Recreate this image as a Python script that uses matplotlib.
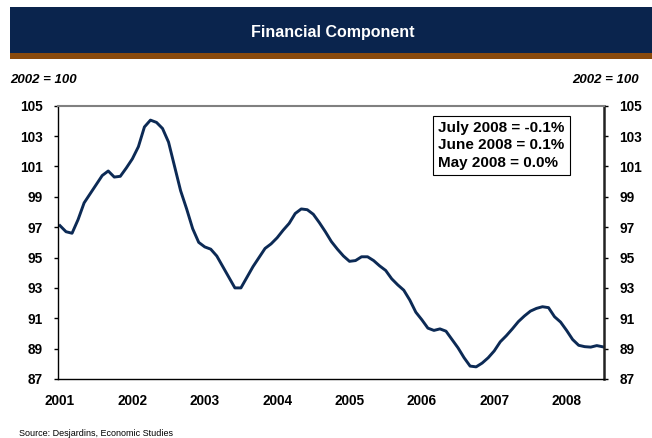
import matplotlib
matplotlib.use("Agg")
import matplotlib.pyplot as plt
from matplotlib.patches import Rectangle

# Monthly index, Jan 2001 - Jul 2008 (2002 = 100)
values = [
    97.1, 96.7, 96.6, 97.5, 98.6, 99.2, 99.8, 100.4, 100.7, 100.3, 100.35, 100.9,   # 2001
    101.5, 102.3, 103.6, 104.05, 103.9, 103.5, 102.6, 101.0, 99.4, 98.2, 96.9, 96.0,  # 2002
    95.7, 95.55, 95.1, 94.4, 93.7, 93.0, 93.0, 93.7, 94.4, 95.0, 95.6, 95.9,         # 2003
    96.3, 96.8, 97.25, 97.9, 98.2, 98.15, 97.85, 97.3, 96.7, 96.05, 95.55, 95.1,     # 2004
    94.75, 94.8, 95.05, 95.05, 94.8, 94.45, 94.15, 93.6, 93.2, 92.85, 92.2, 91.4,    # 2005
    90.9, 90.35, 90.2, 90.3, 90.15, 89.6, 89.05, 88.4, 87.85, 87.8, 88.05, 88.4,     # 2006
    88.85, 89.45, 89.85, 90.3, 90.78, 91.15, 91.47, 91.65, 91.76, 91.7, 91.1, 90.75, # 2007
    90.2, 89.6, 89.22, 89.13, 89.1, 89.2, 89.12,                                       # 2008
]
years = ["2001", "2002", "2003", "2004", "2005", "2006", "2007", "2008"]
yticks = [87, 89, 91, 93, 95, 97, 99, 101, 103, 105]
title = "Financial Component"
unit_label = "2002 = 100"
box_lines = ["July 2008 = -0.1%", "June 2008 = 0.1%", "May 2008 = 0.0%"]
source = "Source: Desjardins, Economic Studies"

plt.rcParams["font.family"] = ["Liberation Sans", "DejaVu Sans"]

W, H = 652, 438
fig = plt.figure(figsize=(W / 100, H / 100), dpi=100)

def fx(px):
    return px / W

def fy(py):
    return 1 - py / H

# Title banner
fig.patches.append(Rectangle((fx(10), fy(53)), fx(W) - fx(10), fy(7) - fy(53),
                             transform=fig.transFigure, facecolor="#0a244d",
                             edgecolor="none", zorder=0))
fig.patches.append(Rectangle((fx(10), fy(58.5)), fx(W) - fx(10), fy(53) - fy(58.5),
                             transform=fig.transFigure, facecolor="#8a4a0c",
                             edgecolor="none", zorder=0))
fig.text(fx(333), fy(32), title, color="white", fontsize=11.5, fontweight="bold",
         ha="center", va="center")

fig.text(fx(10), fy(80), unit_label, fontsize=9.5, fontweight="bold", style="italic",
         ha="left", va="center")
fig.text(fx(639), fy(80), unit_label, fontsize=9.5, fontweight="bold", style="italic",
         ha="right", va="center")
fig.text(fx(19), fy(434), source, fontsize=6.5, ha="left", va="center")

ax = fig.add_axes([fx(58), fy(379), fx(604) - fx(58), fy(105.7) - fy(379)])
x = list(range(len(values)))
ax.plot(x, values, color="#0c2a55", lw=2.1, solid_joinstyle="round")
ax.set_xlim(-0.33, 90.2)
ax.set_ylim(87, 105)
ax.set_yticks(yticks)
ax.set_yticklabels([str(v) for v in yticks])
ax.set_xticks([12 * i for i in range(len(years))])
ax.set_xticklabels(years)
ax.tick_params(axis="x", length=0, pad=11, labelsize=9.8)
ax.tick_params(axis="y", which="both", direction="out", length=3, width=1,
               labelsize=9.8, left=True, right=True, labelleft=True, labelright=True)
ax.tick_params(axis="y", which="both", pad=8)
for lab in ax.get_xticklabels() + ax.get_yticklabels():
    lab.set_fontweight("bold")
for t in ax.yaxis.get_major_ticks():
    t.label2.set_fontweight("bold")

ax.spines["top"].set_color("#808080")
ax.spines["top"].set_linewidth(1.5)
ax.spines["left"].set_color("black")
ax.spines["left"].set_linewidth(1.0)
ax.spines["bottom"].set_color("black")
ax.spines["bottom"].set_linewidth(1.0)
ax.spines["right"].set_color("#222222")
ax.spines["right"].set_linewidth(1.8)

ax.text(0.696, 0.944, "\n".join(box_lines), transform=ax.transAxes, fontsize=11,
        fontweight="bold", ha="left", va="top", linespacing=1.3,
        bbox=dict(boxstyle="square,pad=0.35", facecolor="white", edgecolor="black", lw=0.8))

fig.savefig("out.png", dpi=100)
